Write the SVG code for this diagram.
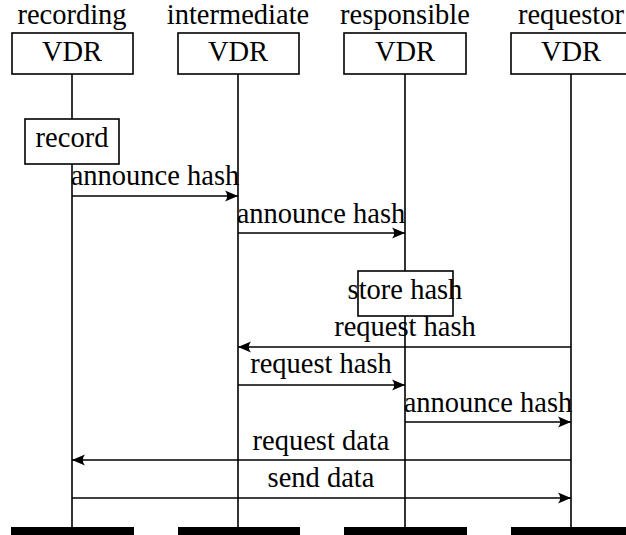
<svg xmlns="http://www.w3.org/2000/svg" width="626" height="535" viewBox="0 0 626 535">
  <style>
    .box { fill: #fff; stroke: #000; stroke-width: 1.6; }
    .life { stroke: #000; stroke-width: 1.6; fill: none; }
    .msg { stroke: #000; stroke-width: 1.6; fill: none; marker-end: url(#head); }
    .bar { fill: #000; }
  </style>
  <defs>
    <marker id="head" markerUnits="userSpaceOnUse" markerWidth="16" markerHeight="12" refX="13" refY="6" orient="auto">
      <path d="M13,6 L0,0.5 Q4.5,6 0,11.5 Z" fill="#000"/>
    </marker>
  </defs>

  <!-- lifelines -->
  <g id="lifelines">
    <line class="life" x1="72" y1="74" x2="72" y2="527"/>
    <line class="life" x1="238" y1="74" x2="238" y2="527"/>
    <line class="life" x1="405" y1="74" x2="405" y2="527"/>
    <line class="life" x1="571" y1="74" x2="571" y2="527"/>
  </g>

  <g font-family="'Liberation Serif', 'Times New Roman', 'DejaVu Serif', serif" font-size="28.5" text-anchor="middle" fill="#000">
    <!-- participants -->
    <g id="recording">
      <text x="72" y="24">recording</text>
      <rect class="box" x="12" y="33" width="121" height="41"/>
      <text x="72" y="61">VDR</text>
      <rect class="bar" x="11" y="527" width="123" height="8"/>
    </g>
    <g id="intermediate">
      <text x="238" y="24">intermediate</text>
      <rect class="box" x="178" y="33" width="121" height="41"/>
      <text x="238" y="61">VDR</text>
      <rect class="bar" x="178" y="527" width="122" height="8"/>
    </g>
    <g id="responsible">
      <text x="405" y="24">responsible</text>
      <rect class="box" x="344" y="33" width="122" height="41"/>
      <text x="405" y="61">VDR</text>
      <rect class="bar" x="344" y="527" width="123" height="8"/>
    </g>
    <g id="requestor">
      <text x="571" y="24">requestor</text>
      <rect class="box" x="511" y="33" width="122" height="41"/>
      <text x="571" y="61">VDR</text>
      <rect class="bar" x="511" y="527" width="123" height="8"/>
    </g>

    <!-- actions -->
    <g id="record">
      <rect class="box" x="25" y="119" width="94" height="45"/>
      <text x="72" y="147">record</text>
    </g>
    <g id="store-hash">
      <rect class="box" x="358" y="271" width="95" height="45"/>
      <text x="405" y="299">store hash</text>
    </g>

    <!-- messages -->
    <g id="connectors">
      <line class="msg" x1="72" y1="196" x2="238" y2="196"/>
      <text x="155" y="185">announce hash</text>
      <line class="msg" x1="238" y1="233" x2="405" y2="233"/>
      <text x="321" y="223">announce hash</text>
      <line class="msg" x1="571" y1="347" x2="238" y2="347"/>
      <text x="405" y="336">request hash</text>
      <line class="msg" x1="238" y1="385" x2="405" y2="385"/>
      <text x="321" y="373">request hash</text>
      <line class="msg" x1="405" y1="422" x2="571" y2="422"/>
      <text x="488" y="412">announce hash</text>
      <line class="msg" x1="571" y1="460" x2="72" y2="460"/>
      <text x="321" y="450">request data</text>
      <line class="msg" x1="72" y1="498" x2="571" y2="498"/>
      <text x="321" y="487">send data</text>
    </g>
  </g>
</svg>
